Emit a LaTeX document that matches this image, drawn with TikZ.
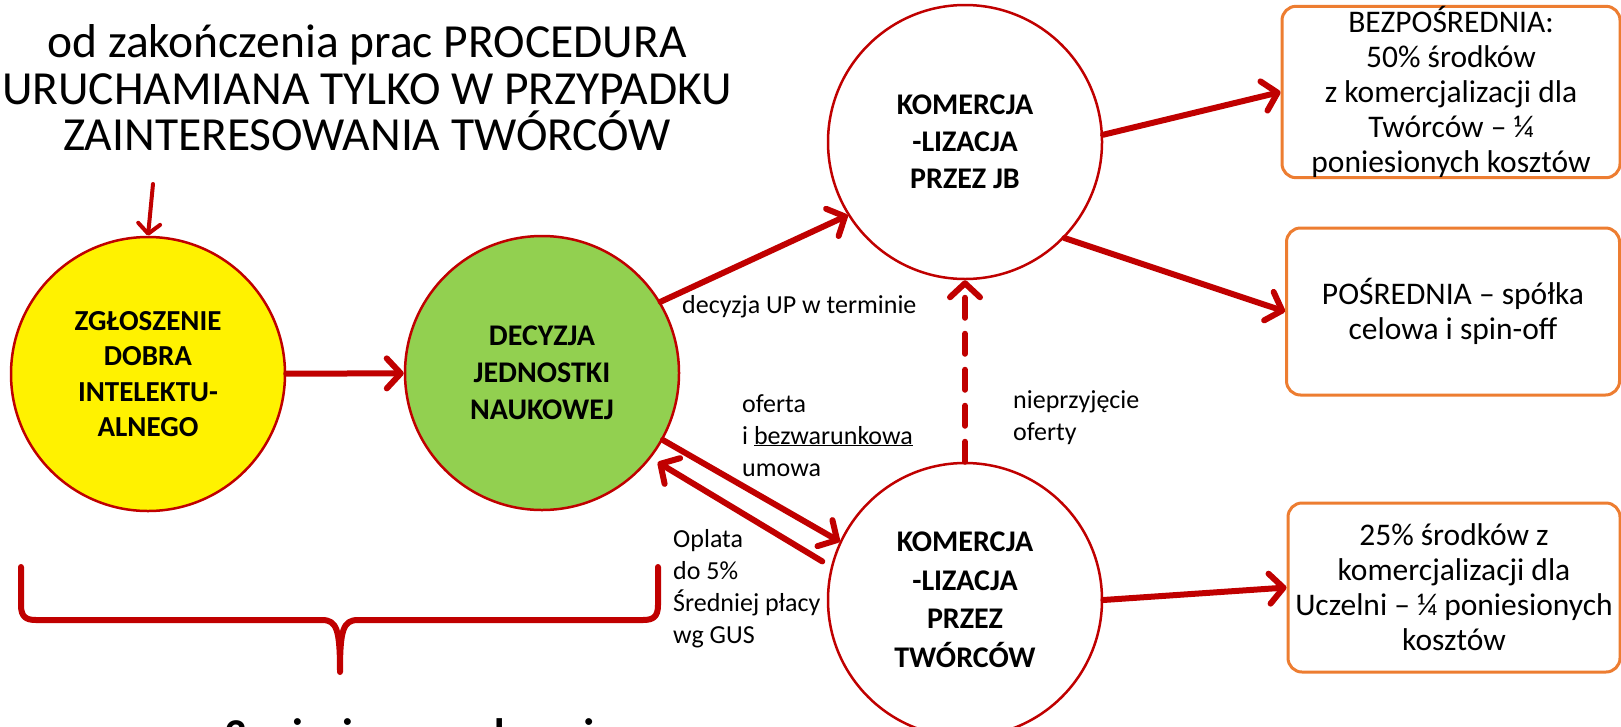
\documentclass[tikz,border=0pt]{standalone}
\usepackage{fontspec}
\setmainfont{Carlito}
\usetikzlibrary{arrows.meta}
\definecolor{dred}{RGB}{192,0,0}
\definecolor{orng}{RGB}{237,125,49}
\definecolor{lgreen}{RGB}{146,208,80}
\begin{document}
\begin{tikzpicture}[x=1pt,y=-1pt,
  circ/.style={circle, draw=dred, line width=2.5pt, minimum size=274pt, inner sep=0pt, align=center, font=\bfseries\fontsize{30}{37}\selectfont},
  box/.style={draw=orng, line width=3pt, rounded corners=14pt, align=center, inner sep=0pt, font=\fontsize{31.5}{35}\selectfont},
  arr/.style={draw=dred, line width=6pt, line cap=round, -{Straight Barb[length=14pt,width=30pt,round]}},
  lbl/.style={align=left, font=\fontsize{26}{32}\selectfont, inner sep=0pt, anchor=north west},
]
\useasboundingbox[fill=white] (0,0) rectangle (1621,726);

% title
\node[align=center, inner sep=0pt, font=\fontsize{47.5}{46.5}\selectfont] (title) at (367,88)
  {od zakończenia prac PROCEDURA\\URUCHAMIANA TYLKO W PRZYPADKU\\ZAINTERESOWANIA TWÓRCÓW};

% circles
\node[circ, fill=yellow, font=\bfseries\fontsize{29}{35.5}\selectfont] (yel) at (148,374) {ZGŁOSZENIE\\DOBRA\\INTELEKTU-\\ALNEGO};
\node[circ, fill=lgreen] (grn) at (542,373) {DECYZJA\\JEDNOSTKI\\NAUKOWEJ};
\node[circ, fill=white] (top) at (965,142) {KOMERCJA\\-LIZACJA\\PRZEZ JB};
\node[circ, fill=white, font=\bfseries\fontsize{30}{38.5}\selectfont] (bot) at (965,600) {KOMERCJA\\-LIZACJA\\PRZEZ\\TWÓRCÓW};

% boxes
\node[box, minimum width=338pt, minimum height=170pt] (b1) at (1451,92)
  {BEZPOŚREDNIA:\\50\% środków\\z komercjalizacji dla\\Twórców – ¼\\poniesionych kosztów};
\node[box, minimum width=333pt, minimum height=167pt] (b2) at (1453,311.5)
  {POŚREDNIA – spółka\\celowa i spin-off};
\node[box, minimum width=332pt, minimum height=169pt] (b3) at (1454,587.5)
  {25\% środków z\\komercjalizacji dla\\Uczelni – ¼ poniesionych\\kosztów};

% arrows
\coordinate (a0) at (153,184);
\draw[arr, line width=4pt, -{Straight Barb[length=10pt,width=22pt,round]}] (a0) -- (yel.north);
\draw[arr] (yel) -- (grn);
\draw[arr] (grn.31) -- (top.212);
\draw[arr] (top.3) -- (b1.west);
\draw[arr] (top.-44) -- (b2.west);
\draw[arr, dash pattern=on 20pt off 16pt] (bot.north) -- (top.south);
\draw[arr] (grn.-29) -- (bot.155);
\draw[arr, shorten <=10pt, shorten >=8pt] (bot.166) -- (grn.-38);
\draw[arr] (bot.east) -- (b3.west);

% labels
\node[lbl, anchor=west] (l1) at (682,307) {decyzja UP w terminie};
\node[lbl] (l2) at (742,394) {oferta\\i \underline{bezwarunkowa}\\umowa};
\node[lbl] (l3) at (1013,390) {nieprzyjęcie\\oferty};
\node[lbl] (l4) at (673,529) {Oplata\\do 5\%\\Średniej płacy\\wg GUS};

% brace
\draw[dred, line width=6pt, line cap=round, line join=round]
  (21,567) -- (21,605) .. controls (21,617) and (26,620) .. (36,620) -- (322,620)
  .. controls (337,620) and (340,630) .. (340,672)
  .. controls (340,630) and (343,620) .. (358,620) -- (643,620)
  .. controls (653,620) and (658,617) .. (658,605) -- (658,567);

% cut-off bottom text (cut off in the reference as well)
\node[anchor=base west, inner sep=0pt, font=\bfseries\fontsize{44}{50}\selectfont] (bt) at (224,749) {3 miesiące na decyzję};
\end{tikzpicture}
\end{document}
